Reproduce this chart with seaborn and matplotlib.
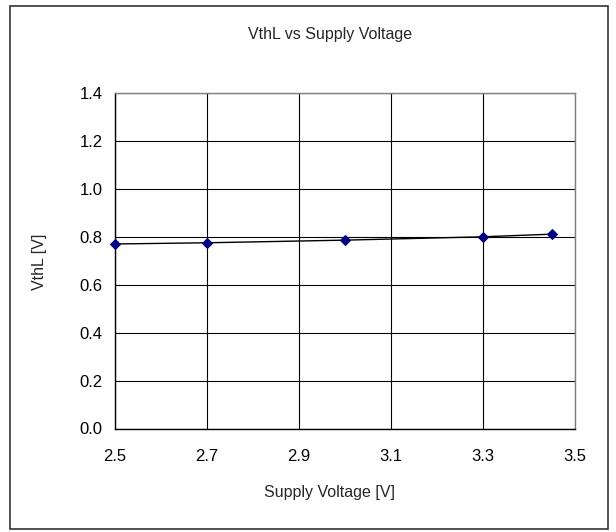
import numpy as np
import pandas as pd
import matplotlib
matplotlib.use("Agg")
import matplotlib.pyplot as plt
import seaborn as sns
from matplotlib.patches import Rectangle

# data
supply_v = [2.5, 2.7, 3.0, 3.3, 3.45]
vthl = [0.770, 0.775, 0.786, 0.800, 0.811]
x_ticks = [2.5, 2.7, 2.9, 3.1, 3.3, 3.5]
y_ticks = [0.0, 0.2, 0.4, 0.6, 0.8, 1.0, 1.2, 1.4]

df = pd.DataFrame({"supply": supply_v, "vthl": vthl})

sns.set_style("white")
plt.rcParams['font.family'] = ['Liberation Sans', 'DejaVu Sans']

fig = plt.figure(figsize=(6.16, 5.32), dpi=100)
ax = fig.add_axes([115/616, 1 - 428.5/532, 460/616, 335.5/532])

sns.lineplot(data=df, x="supply", y="vthl", ax=ax, color="black", lw=1.0,
             marker="D", markersize=5.5, markerfacecolor="#000080",
             markeredgecolor="#000080", clip_on=False, zorder=5)

ax.set_xlim(2.5, 3.5)
ax.set_ylim(0, 1.4)
ax.set_xticks(x_ticks)
ax.set_yticks(y_ticks)
ax.set_xticklabels([f"{t:.1f}" for t in x_ticks])
ax.set_yticklabels([f"{t:.1f}" for t in y_ticks])
ax.grid(True, color="black", lw=0.8)
ax.set_axisbelow(True)
ax.tick_params(axis="both", length=0, labelsize=12, colors="black")
ax.tick_params(axis="x", pad=15)
ax.tick_params(axis="y", pad=9)
for side in ["left", "bottom"]:
    ax.spines[side].set_color("black")
    ax.spines[side].set_linewidth(1.0)
for side in ["top", "right"]:
    ax.spines[side].set_color("#808080")
    ax.spines[side].set_linewidth(1.0)
ax.set_xlabel("")
ax.set_ylabel("")

fig.text(330/616, 1 - 35/532, "VthL vs Supply Voltage", ha="center", va="center", fontsize=11.5)
fig.text(330/616, 1 - 493/532, "Supply Voltage [V]", ha="center", va="center", fontsize=11.5)
fig.text(40/616, 1 - 262/532, "VthL [V]", ha="center", va="center", rotation=90, fontsize=11.5)

# outer chart border
fig.patches.append(Rectangle((10/616, 1 - 529/532), 598/616, 523/532,
                             transform=fig.transFigure, fill=False,
                             edgecolor="#333333", lw=1.2))

fig.savefig("out.png", dpi=100)
